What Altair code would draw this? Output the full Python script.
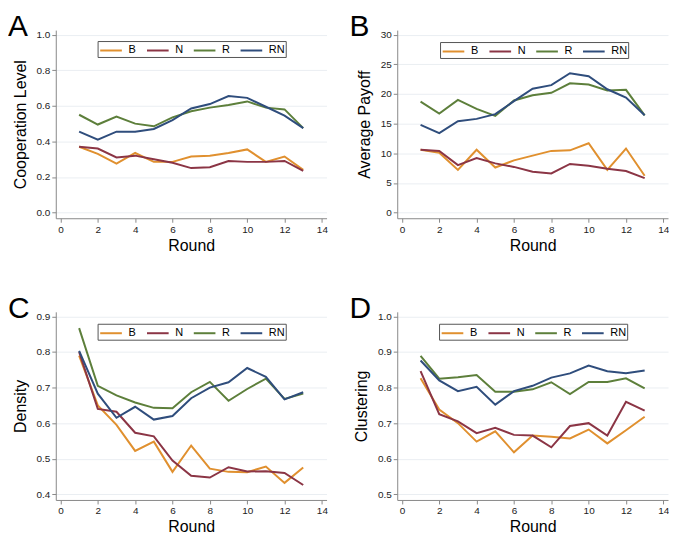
import altair as alt
import pandas as pd

rounds = list(range(1, 14))
groups = ["B", "N", "R", "RN"]
colors = ["#E0902F", "#8B3545", "#5D7F3B", "#2F4D7C"]

coop_B = [0.37, 0.33, 0.275, 0.335, 0.285, 0.285, 0.315, 0.32, 0.335, 0.355, 0.285, 0.315, 0.24]
coop_N = [0.37, 0.36, 0.31, 0.32, 0.30, 0.28, 0.25, 0.255, 0.29, 0.285, 0.285, 0.29, 0.235]
coop_R = [0.55, 0.495, 0.54, 0.50, 0.485, 0.535, 0.57, 0.59, 0.605, 0.625, 0.59, 0.58, 0.475]
coop_RN = [0.455, 0.41, 0.455, 0.455, 0.47, 0.52, 0.585, 0.61, 0.655, 0.645, 0.595, 0.545, 0.475]

pay_B = [10.6, 10.1, 7.2, 10.6, 7.6, 8.8, 9.6, 10.4, 10.5, 11.7, 7.2, 10.8, 6.2]
pay_N = [10.6, 10.4, 8.0, 9.2, 8.3, 7.7, 6.9, 6.6, 8.2, 7.9, 7.4, 7.0, 5.8]
pay_R = [18.7, 16.7, 19.0, 17.5, 16.3, 18.9, 19.8, 20.2, 21.8, 21.6, 20.6, 20.7, 16.4]
pay_RN = [14.8, 13.4, 15.4, 15.8, 16.6, 18.8, 20.9, 21.5, 23.5, 23.0, 20.8, 19.4, 16.4]

dens_B = [0.79, 0.65, 0.595, 0.522, 0.548, 0.463, 0.537, 0.472, 0.463, 0.462, 0.478, 0.432, 0.475]
dens_N = [0.80, 0.64, 0.632, 0.573, 0.563, 0.495, 0.452, 0.447, 0.476, 0.464, 0.465, 0.46, 0.426]
dens_R = [0.867, 0.705, 0.678, 0.658, 0.643, 0.642, 0.687, 0.716, 0.663, 0.696, 0.725, 0.668, 0.683]
dens_RN = [0.803, 0.683, 0.615, 0.646, 0.61, 0.62, 0.67, 0.70, 0.715, 0.755, 0.73, 0.667, 0.687]

clus_B = [0.826, 0.738, 0.70, 0.648, 0.677, 0.618, 0.665, 0.662, 0.657, 0.682, 0.643, 0.68, 0.718]
clus_N = [0.846, 0.725, 0.705, 0.672, 0.687, 0.667, 0.665, 0.632, 0.692, 0.70, 0.665, 0.76, 0.735]
clus_R = [0.889, 0.825, 0.829, 0.835, 0.788, 0.788, 0.795, 0.815, 0.782, 0.816, 0.816, 0.826, 0.798]
clus_RN = [0.876, 0.82, 0.79, 0.802, 0.752, 0.79, 0.805, 0.828, 0.84, 0.862, 0.846, 0.84, 0.848]

x_ticks = [0, 2, 4, 6, 8, 10, 12, 14]

FONT = "Liberation Sans"
W, H = 272, 189


def long_df(series):
    rows = []
    for g, vals in zip(groups, series):
        for r, v in zip(rounds, vals):
            rows.append({"Round": r, "Group": g, "Value": v})
    return pd.DataFrame(rows)


def panel(letter, ytitle, series, ticks, fmt, legend_x, legend_y):
    lo, hi = ticks[0], ticks[-1]
    rng = hi - lo
    ydom = [lo - 0.032 * rng, hi + 0.026 * rng]
    df = long_df(series)
    lines = alt.Chart(df).mark_line(strokeWidth=2, clip=True).encode(
        x=alt.X("Round:Q", scale=alt.Scale(domain=[-0.25, 14.25], nice=False, zero=False),
                axis=alt.Axis(values=x_ticks, title="Round", grid=False, format="d")),
        y=alt.Y("Value:Q", scale=alt.Scale(domain=ydom, nice=False, zero=False),
                axis=alt.Axis(values=ticks, title=ytitle, format=fmt, grid=True)),
        color=alt.Color("Group:N", scale=alt.Scale(domain=groups, range=colors),
                        legend=alt.Legend(
                            title=None, orient="none", legendX=legend_x, legendY=legend_y,
                            direction="horizontal", symbolType="M-1.45,0L1.45,0",
                            symbolStrokeWidth=2, symbolSize=225, symbolOffset=4,
                            labelFontSize=11, labelFont=FONT, labelOffset=9,
                            gridAlign="none",
                            strokeColor="#555555", padding=1, columnPadding=6,
                            fillColor="white")),
    )
    lab = alt.Chart(pd.DataFrame({"t": [letter]})).mark_text(
        fontSize=30, font=FONT, align="left", baseline="alphabetic", color="black"
    ).encode(text="t:N", x=alt.value(-48), y=alt.value(6))
    return alt.layer(lines, lab).properties(width=W, height=H)


pA = panel("A", "Cooperation Level", [coop_B, coop_N, coop_R, coop_RN],
           [0.0, 0.2, 0.4, 0.6, 0.8, 1.0], ".1f", 42, 11)
pB = panel("B", "Average Payoff", [pay_B, pay_N, pay_R, pay_RN],
           [0, 5, 10, 15, 20, 25, 30], "d", 43, 12)
pC = panel("C", "Density", [dens_B, dens_N, dens_R, dens_RN],
           [0.4, 0.5, 0.6, 0.7, 0.8, 0.9], ".1f", 42, 12)
pD = panel("D", "Clustering", [clus_B, clus_N, clus_R, clus_RN],
           [0.5, 0.6, 0.7, 0.8, 0.9, 1.0], ".1f", 42, 12)

row1 = alt.hconcat(pA, pB, spacing=22).resolve_scale(x="independent", y="independent").resolve_legend(color="independent")
row2 = alt.hconcat(pC, pD, spacing=22).resolve_scale(x="independent", y="independent").resolve_legend(color="independent")

chart = alt.vconcat(row1, row2, spacing=41).resolve_scale(
    x="independent", y="independent"
).resolve_legend(color="independent").properties(
    padding={"top": 3, "left": 0, "right": 0, "bottom": 0}
).configure_view(
    stroke=None
).configure_axis(
    labelFont=FONT, titleFont=FONT, labelFontSize=10, titleFontSize=16,
    titleFontWeight="normal", labelColor="#222222", titleColor="black",
    domainColor="#888888", tickColor="#888888", tickSize=4, labelPadding=2,
    gridColor="#eaeef2", domainWidth=1,
).configure_axisY(titlePadding=8).configure_axisX(titlePadding=3)

chart.save("out.html", embed_options={"renderer": "svg", "actions": False})
